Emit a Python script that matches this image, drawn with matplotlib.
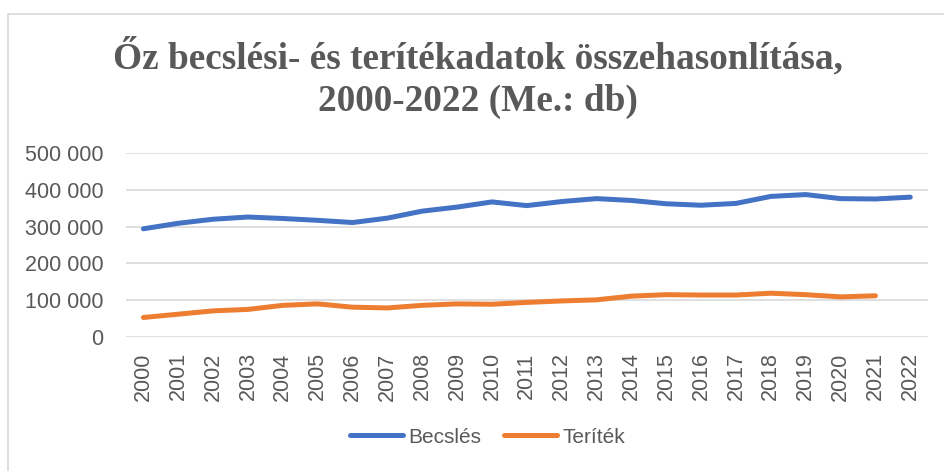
import matplotlib.pyplot as plt
from matplotlib.patches import Rectangle
from matplotlib.ticker import FuncFormatter

years = [str(y) for y in range(2000, 2023)]
becsles = [294000, 309000, 320000, 326000, 322000, 317000, 311000, 323000,
           342000, 353000, 367000, 357000, 368000, 376000, 371000, 362000,
           358000, 363000, 382000, 387000, 376000, 375000, 380000]
teritek = [53000, 62000, 71000, 75000, 86000, 90000, 81000, 79000,
           86000, 90000, 89000, 94000, 98000, 101000, 111000, 115000,
           114000, 114000, 119000, 115000, 109000, 112000]

gray = '#595959'
plt.rcParams['font.family'] = ['Liberation Sans', 'DejaVu Sans']

fig = plt.figure(figsize=(9.45, 4.71), dpi=100)
ax = fig.add_axes([0.1333, 0.2845, 0.8484, 0.3907])

# chart border
fig.patches.append(Rectangle((8 / 945, -0.05), 1.2, 1 - 14 / 471 + 0.05,
                             transform=fig.transFigure, fill=False,
                             edgecolor='#D9D9D9', linewidth=1.2))

ax.plot(years, becsles, color='#4472C4', linewidth=3.6,
        solid_capstyle='round', solid_joinstyle='round', label='Becslés')
ax.plot(years[:len(teritek)], teritek, color='#ED7D31', linewidth=3.6,
        solid_capstyle='round', solid_joinstyle='round', label='Teríték')

ax.set_xlim(-0.5, len(years) - 0.5)
ax.set_ylim(0, 500000)
ax.set_yticks(range(0, 500001, 100000))
ax.yaxis.set_major_formatter(FuncFormatter(lambda v, p: f'{int(v):,}'.replace(',', ' ')))
ax.grid(axis='y', color='#D9D9D9', linewidth=1.2)
ax.set_axisbelow(True)
for s in ax.spines.values():
    s.set_visible(False)
ax.tick_params(axis='both', length=0, labelsize=15.5, labelcolor=gray)
ax.tick_params(axis='x', rotation=90, pad=11)
ax.tick_params(axis='y', pad=16)

fig.text(0.506, 0.92, 'Őz becslési- és terítékadatok összehasonlítása,\n2000-2022 (Me.: db)',
         ha='center', va='top', fontsize=26.8, fontweight='bold', color=gray,
         family='Liberation Serif', linespacing=1.3)

leg = fig.legend(loc='center', bbox_to_anchor=(0.516, 0.072), ncol=2, frameon=False,
                 fontsize=15, handlelength=2.55, handletextpad=0.25, columnspacing=1.1)
for t in leg.get_texts():
    t.set_color(gray)

fig.savefig('out.png', dpi=100)
